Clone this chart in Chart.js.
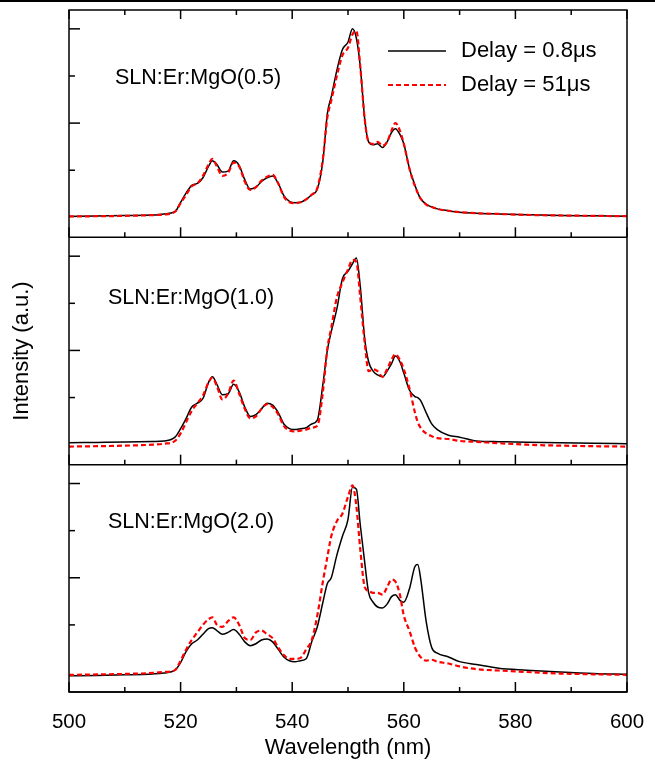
<!DOCTYPE html>
<html><head><meta charset="utf-8">
<script src="https://cdn.jsdelivr.net/npm/chart.js@4.4.1/dist/chart.umd.min.js"></script>
<style>html,body{margin:0;padding:0;background:#fff;}canvas{display:block;}</style>
</head><body>
<canvas id="c" width="655" height="767"></canvas>
<script>
// ---- data ----
const wavelength = [500,505,510,515,517,519,520,521,522,523,524,525,525.7,526.5,527.5,528.5,529.5,530.5,531.5,532.5,533.5,534.5,535.5,536.5,537.5,538.5,539.5,540.5,541.5,542.5,543.5,544.5,545.5,546.3,547,548,549,550,550.8,551.5,552.2,553,553.7,554.5,555.3,556.2,557,557.8,558.5,559.3,560,561,562,562.5,563,564,565,566,568,570,573,577,582,588,594,600];

const mg05Fast = [0.005,0.007,0.01,0.012,0.018,0.03,0.08,0.13,0.17,0.18,0.21,0.27,0.30,0.28,0.24,0.245,0.30,0.275,0.20,0.15,0.16,0.19,0.21,0.22,0.18,0.115,0.085,0.078,0.08,0.095,0.12,0.15,0.30,0.55,0.64,0.78,0.89,0.93,1.0,0.95,0.80,0.52,0.40,0.385,0.39,0.37,0.40,0.45,0.47,0.44,0.39,0.26,0.17,0.13,0.10,0.07,0.055,0.045,0.035,0.027,0.022,0.018,0.014,0.01,0.008,0.006];
const mg05Slow = [0.005,0.006,0.008,0.012,0.015,0.03,0.075,0.12,0.165,0.18,0.22,0.28,0.31,0.27,0.22,0.235,0.29,0.27,0.19,0.145,0.16,0.195,0.215,0.225,0.18,0.11,0.08,0.075,0.08,0.095,0.12,0.155,0.31,0.53,0.62,0.75,0.86,0.90,0.97,0.99,0.80,0.52,0.40,0.39,0.40,0.38,0.40,0.46,0.50,0.46,0.39,0.26,0.165,0.13,0.10,0.068,0.055,0.045,0.035,0.028,0.022,0.018,0.013,0.01,0.008,0.006];

const mg10Fast = [0.01,0.012,0.014,0.017,0.02,0.04,0.085,0.14,0.20,0.22,0.245,0.33,0.36,0.32,0.265,0.27,0.32,0.28,0.20,0.15,0.16,0.19,0.22,0.21,0.17,0.11,0.085,0.08,0.085,0.09,0.11,0.13,0.32,0.50,0.60,0.72,0.88,0.92,0.96,0.99,0.84,0.56,0.44,0.39,0.37,0.36,0.39,0.43,0.47,0.44,0.38,0.29,0.255,0.25,0.235,0.17,0.11,0.08,0.05,0.04,0.02,0.016,0.013,0.01,0.008,0.005];
const mg10Slow = [-0.01,-0.008,-0.005,0.0,0.005,0.02,0.06,0.12,0.18,0.22,0.26,0.33,0.355,0.31,0.24,0.27,0.34,0.27,0.19,0.14,0.15,0.19,0.215,0.20,0.16,0.10,0.075,0.07,0.075,0.08,0.09,0.10,0.28,0.51,0.62,0.78,0.86,0.93,0.98,0.97,0.78,0.54,0.39,0.40,0.39,0.36,0.40,0.45,0.48,0.45,0.40,0.30,0.17,0.12,0.09,0.06,0.045,0.035,0.03,0.02,0.015,0.008,0.0,-0.005,-0.008,-0.01];

const mg20Fast = [-0.02,-0.018,-0.015,-0.01,-0.005,0.01,0.05,0.11,0.15,0.17,0.20,0.23,0.235,0.22,0.20,0.21,0.225,0.20,0.16,0.14,0.15,0.17,0.175,0.16,0.12,0.08,0.06,0.055,0.06,0.07,0.16,0.24,0.37,0.47,0.50,0.62,0.72,0.81,0.98,0.97,0.78,0.58,0.42,0.37,0.345,0.34,0.36,0.40,0.41,0.38,0.37,0.44,0.56,0.57,0.50,0.27,0.13,0.10,0.08,0.055,0.04,0.02,0.01,0.0,-0.008,-0.012];
const mg20Slow = [-0.015,-0.013,-0.01,-0.005,0.0,0.01,0.06,0.12,0.17,0.21,0.25,0.28,0.29,0.25,0.24,0.27,0.29,0.25,0.18,0.17,0.21,0.22,0.20,0.18,0.13,0.09,0.07,0.07,0.075,0.12,0.17,0.30,0.48,0.61,0.72,0.80,0.84,0.93,0.99,0.88,0.65,0.45,0.43,0.42,0.42,0.41,0.45,0.49,0.48,0.41,0.30,0.22,0.13,0.10,0.08,0.06,0.065,0.055,0.045,0.03,0.015,0.008,0.0,-0.008,-0.012,-0.015];

const panelLabels = ['SLN:Er:MgO(0.5)','SLN:Er:MgO(1.0)','SLN:Er:MgO(2.0)'];
const seriesLabels = ['Delay = 0.8\u03bcs','Delay = 51\u03bcs'];
const xMajorTicks = [500,520,540,560,580,600];
const xMinorTicks = [510,530,550,570,590];
const yMajorTicks = [0.5,1];
const yMinorTicks = [0.25,0.75];

// ---- chart ----
const FONT = 'Liberation Sans, Arial, sans-serif';
// Chart.js stacks left axes bottom-up in definition order, so the top panel uses the last axis
const panelIds = ['yTop','yMid','yBot'];
const panelSeries = [[mg05Fast,mg05Slow],[mg10Fast,mg10Slow],[mg20Fast,mg20Slow]];
const pts = arr => wavelength.map((w,i)=>({x:w,y:arr[i]}));
const datasets = [];
panelSeries.forEach((pair,p)=>{
  datasets.push({label:seriesLabels[0]+' '+panelLabels[p],data:pts(pair[0]),yAxisID:panelIds[p],borderColor:'#000',borderWidth:1.5,pointRadius:0,cubicInterpolationMode:'monotone',order:1});
  datasets.push({label:seriesLabels[1]+' '+panelLabels[p],data:pts(pair[1]),yAxisID:panelIds[p],borderColor:'#ff0000',borderWidth:2.2,borderDash:[5,3],pointRadius:0,cubicInterpolationMode:'monotone',order:0});
});

function yAxis(showTitle){
  return {type:'linear',position:'left',stack:'panels',stackWeight:1,min:-0.106,max:1.10,
    ticks:{display:false},grid:{display:false},border:{display:false},
    title:{display:showTitle,text:'Intensity (a.u.)',color:'#000',font:{family:FONT,size:22},padding:{top:3,bottom:0}},
    afterFit:s=>{s.width=63;}};
}

const framePlugin = {
  id:'frame',
  afterDraw(chart){
    const {ctx,chartArea:a,scales} = chart;
    const x = scales.x;
    ctx.save();
    ctx.fillStyle='#000';
    ctx.fillRect(0,0,chart.width,2);
    ctx.strokeStyle='#000';
    ctx.lineWidth=1.5;
    const line=(x1,y1,x2,y2)=>{ctx.beginPath();ctx.moveTo(x1,y1);ctx.lineTo(x2,y2);ctx.stroke();};
    ctx.strokeRect(a.left,a.top,a.right-a.left,a.bottom-a.top);
    xMajorTicks.forEach(v=>{const px=x.getPixelForValue(v);line(px,a.top,px,a.top+9);});
    xMinorTicks.forEach(v=>{const px=x.getPixelForValue(v);line(px,a.top,px,a.top+5);});
    panelIds.forEach((id,p)=>{
      const s=scales[id];
      line(a.left,s.bottom,a.right,s.bottom);
      xMajorTicks.forEach(v=>{const px=x.getPixelForValue(v);line(px,s.bottom,px,s.bottom-10);});
      xMinorTicks.forEach(v=>{const px=x.getPixelForValue(v);line(px,s.bottom,px,s.bottom-5);});
      yMajorTicks.forEach(v=>{const py=s.getPixelForValue(v);line(a.left,py,a.left+11,py);});
      yMinorTicks.forEach(v=>{const py=s.getPixelForValue(v);line(a.left,py,a.left+6,py);});
      ctx.fillStyle='#000';
      ctx.font='21.5px '+FONT;
      ctx.textBaseline='middle';
      ctx.textAlign='left';
      const lx = p===0 ? 115 : 108;
      const ly = s.top + [68,61,57][p];
      ctx.fillText(panelLabels[p],lx,ly);
    });
    const s1=scales[panelIds[0]];
    ctx.font='22px '+FONT;
    ctx.lineWidth=1.5; ctx.strokeStyle='#000';
    line(388,s1.top+41,446,s1.top+41);
    ctx.fillText(seriesLabels[0],461,s1.top+41);
    ctx.strokeStyle='#ff0000'; ctx.lineWidth=2.2; ctx.setLineDash([5,3]);
    line(388,s1.top+75,446,s1.top+75);
    ctx.setLineDash([]);
    ctx.fillText(seriesLabels[1],461,s1.top+75);
    ctx.restore();
  }
};

new Chart(document.getElementById('c'),{
  type:'line',
  data:{datasets},
  options:{
    responsive:false,animation:false,
    layout:{padding:{left:6,right:28,top:10,bottom:0}},
    plugins:{legend:{display:false},tooltip:{enabled:false}},
    scales:{
      x:{type:'linear',min:500,max:600,position:'bottom',
        ticks:{stepSize:20,color:'#000',font:{family:FONT,size:20.5},padding:10,maxRotation:0},
        grid:{display:false},border:{display:false},
        title:{display:true,text:'Wavelength (nm)',color:'#000',font:{family:FONT,size:22},padding:{top:7,bottom:6}},
        afterFit:s=>{s.height=75;}},
      yBot:yAxis(false),
      yMid:yAxis(true),
      yTop:yAxis(false)
    }
  },
  plugins:[framePlugin]
});
</script>
</body></html>
